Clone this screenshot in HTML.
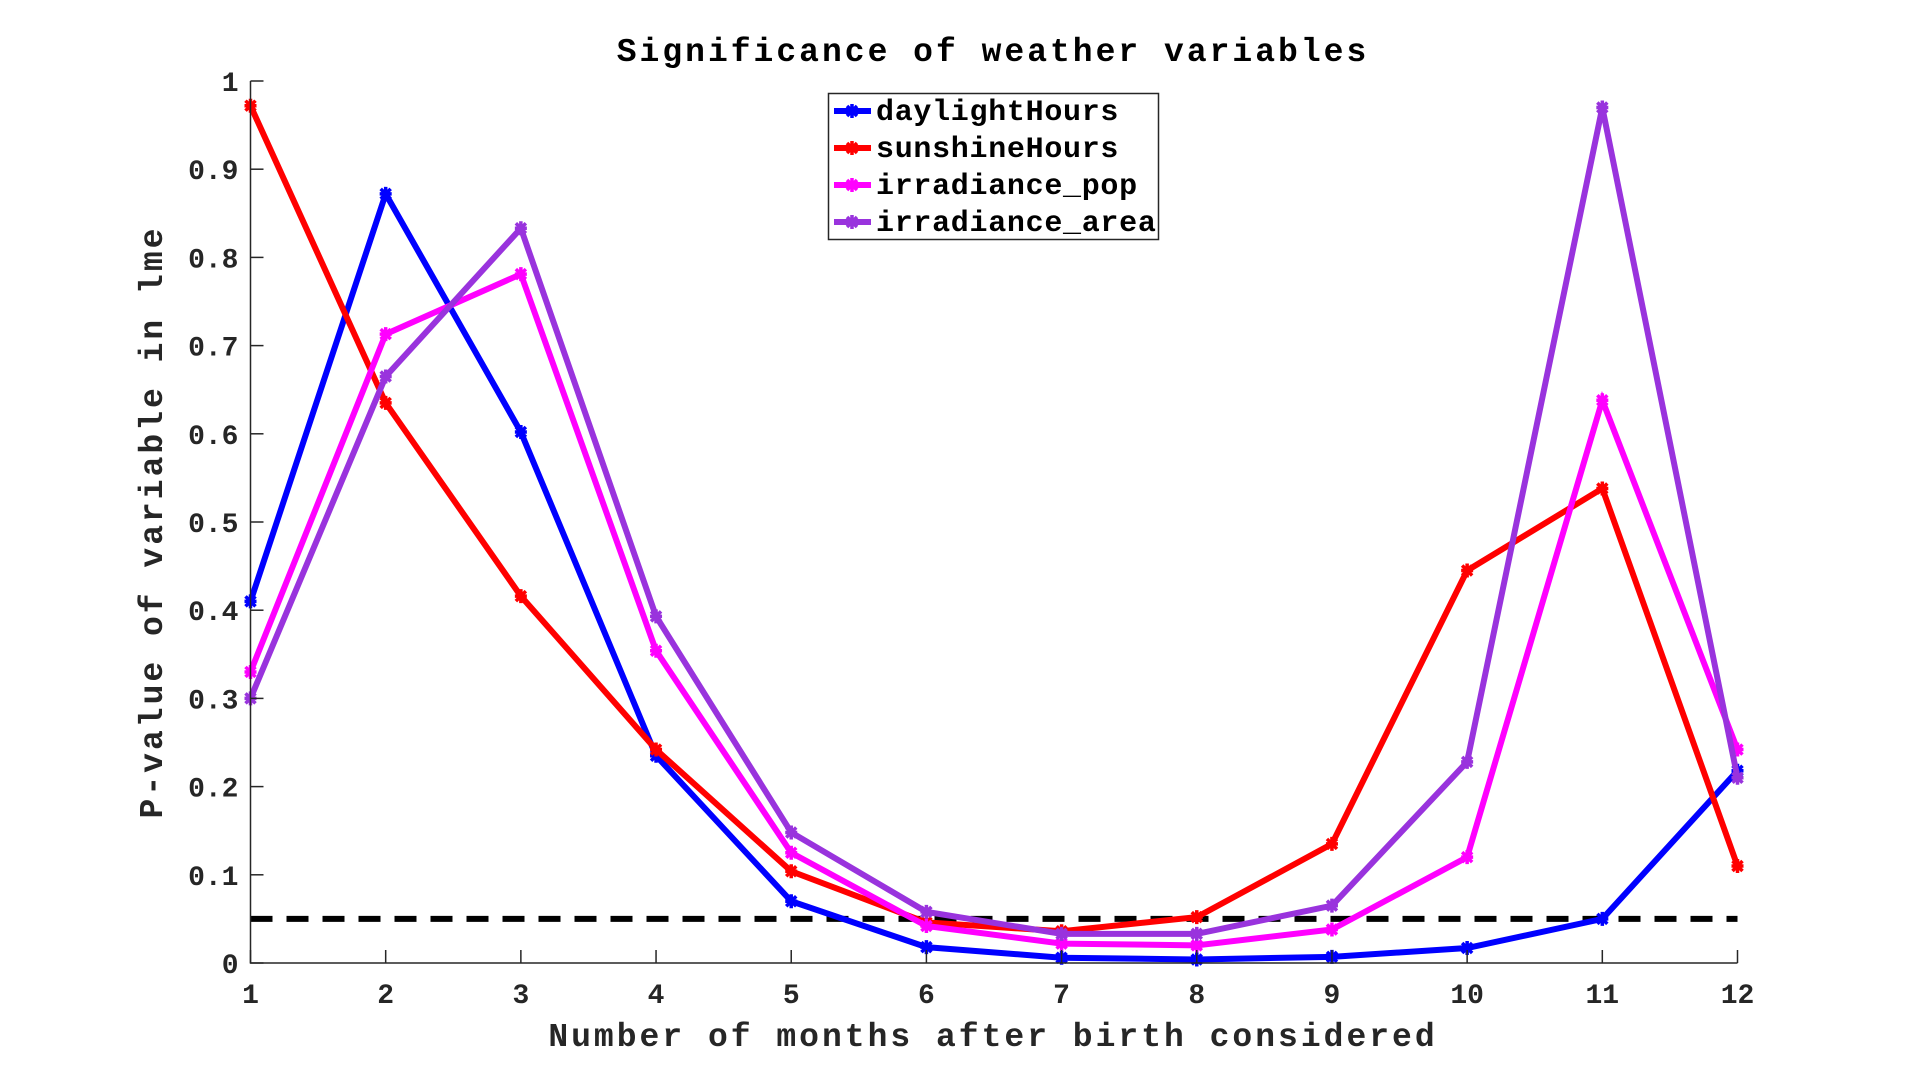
<!DOCTYPE html>
<html><head><meta charset="utf-8">
<style>
html,body{margin:0;padding:0;background:#fff;}
svg text{font-family:"Liberation Mono","Courier New",monospace;font-weight:bold;fill:#262626;}
</style></head>
<body>
<svg id="chart" width="1920" height="1083" viewBox="0 0 1920 1083" xmlns="http://www.w3.org/2000/svg">
<rect width="1920" height="1083" fill="#fff"/>
<g id="grid"></g>
<g id="series"></g>
<g id="axes"></g>
<text x="993" y="61" text-anchor="middle" font-size="33" letter-spacing="3" style="fill:#000">Significance of weather variables</text>
<text x="993" y="1046" text-anchor="middle" font-size="33" letter-spacing="3">Number of months after birth considered</text>
<text transform="translate(162,522) rotate(-90)" text-anchor="middle" font-size="33" letter-spacing="3">P-value of variable in lme</text>
<g id="legend"></g>
</svg>
<script>
const months = [1,2,3,4,5,6,7,8,9,10,11,12];
const daylightHours = [0.41,0.872,0.602,0.235,0.07,0.018,0.006,0.004,0.007,0.017,0.05,0.218];
const sunshineHours = [0.972,0.635,0.416,0.242,0.104,0.046,0.036,0.052,0.135,0.445,0.538,0.11];
const irradiancePop = [0.33,0.713,0.781,0.354,0.125,0.042,0.022,0.02,0.038,0.12,0.638,0.242];
const irradianceArea = [0.30,0.665,0.833,0.393,0.148,0.058,0.033,0.033,0.065,0.228,0.97,0.21];
const seriesNames = ["daylightHours","sunshineHours","irradiance_pop","irradiance_area"];
const yTicks = [0,0.1,0.2,0.3,0.4,0.5,0.6,0.7,0.8,0.9,1];
const yTickLabels = ["0","0.1","0.2","0.3","0.4","0.5","0.6","0.7","0.8","0.9","1"];
const threshold = 0.05;

const NS="http://www.w3.org/2000/svg";
const L=250.5,R=1737.5,T=81,B=963;
const xs=m=>L+(m-1)/(11)*(R-L);
const ys=v=>B-v*(B-T);
const colors=["#0000ff","#ff0000","#ff00ff","#9933dd"];
const data=[daylightHours,sunshineHours,irradiancePop,irradianceArea];
function mk(tag,attrs,parent){const e=document.createElementNS(NS,tag);for(const k in attrs)e.setAttribute(k,attrs[k]);parent.appendChild(e);return e;}
const axes=document.getElementById('axes'), ser=document.getElementById('series'), leg=document.getElementById('legend');

const th=mk('line',{x1:L,x2:R,y1:ys(threshold),y2:ys(threshold),stroke:'#000','stroke-width':6,'stroke-dasharray':'22,14'},ser);



function marker(g,x,y,c){
  mk('path',{d:`M${x-6},${y}H${x+6}M${x},${y-7}V${y+7}M${x-5},${y-5}L${x+5},${y+5}M${x-5},${y+5}L${x+5},${y-5}`,stroke:c,'stroke-width':3.5,fill:'none'},g);
}
data.forEach((arr,i)=>{
  const g=mk('g',{},ser);
  
  
  const pts=arr.map((v,j)=>xs(months[j])+','+ys(v)).join(' ');
  mk('polyline',{points:pts,fill:'none',stroke:colors[i],'stroke-width':6,'stroke-linejoin':'miter'},g);
  arr.forEach((v,j)=>marker(g,xs(months[j]),ys(v),colors[i]));
});

const ax=mk('path',{d:`M${L},${T}V${B}H${R}`,stroke:'#262626','stroke-width':1.5,fill:'none'},axes);


yTicks.forEach((v,i)=>{
  mk('line',{x1:L,x2:L+13,y1:ys(v),y2:ys(v),stroke:'#262626','stroke-width':1.5},axes);
  const t=mk('text',{x:L-12,y:ys(v)+10,'text-anchor':'end','font-size':28},axes);
  t.textContent=yTickLabels[i];
  
  
});
months.forEach(m=>{
  mk('line',{x1:xs(m),x2:xs(m),y1:B,y2:B-13,stroke:'#262626','stroke-width':1.5},axes);
  const t=mk('text',{x:xs(m),y:B+40,'text-anchor':'middle','font-size':28},axes);
  t.textContent=String(m);
  
  
});

mk('rect',{x:828.5,y:93.5,width:330,height:146,fill:'#fff',stroke:'#262626','stroke-width':1.5},leg);
seriesNames.forEach((n,i)=>{
  const y=111+i*37;
  const g=mk('g',{},leg);
  
  
  mk('line',{x1:834,x2:871,y1:y,y2:y,stroke:colors[i],'stroke-width':6},g);
  marker(g,852,y,colors[i]);
  const t=mk('text',{x:876,y:y+9,'font-size':30,'letter-spacing':0.7,style:'fill:#000'},g);
  t.textContent=n;
});
</script>
</body></html>
